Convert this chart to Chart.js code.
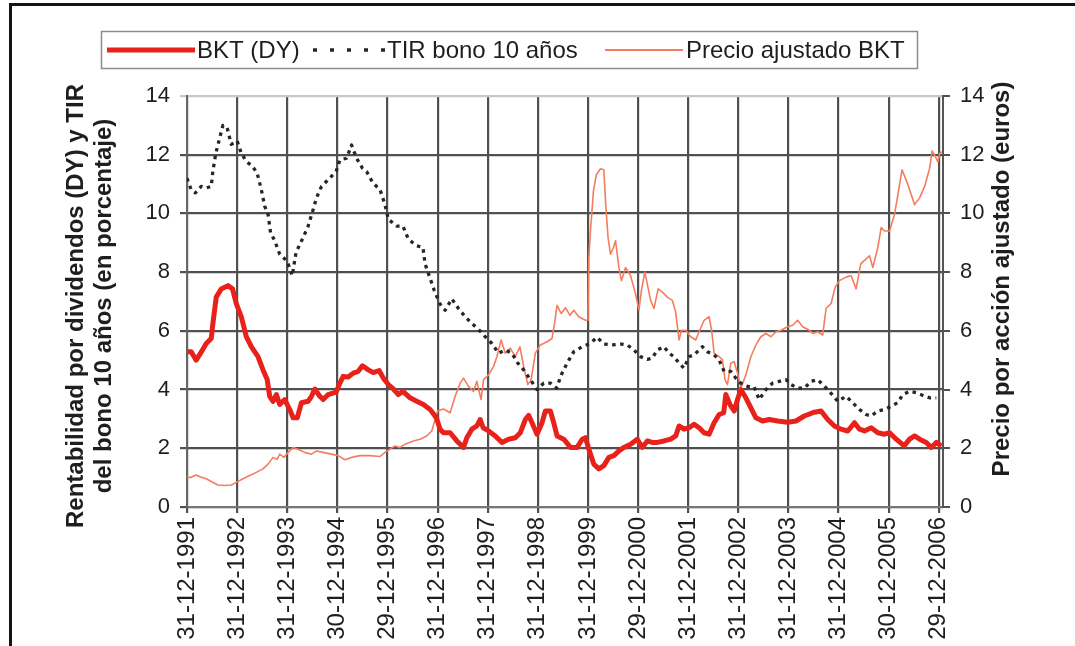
<!DOCTYPE html>
<html>
<head>
<meta charset="utf-8">
<title>BKT: rentabilidad por dividendos, TIR y precio</title>
<script src="https://cdn.jsdelivr.net/npm/chart.js@4.4.0/dist/chart.umd.min.js"></script>
<style>
  html, body { margin: 0; padding: 0; background: #fff; }
  #wrap { position: relative; width: 1075px; height: 646px; }
</style>
</head>
<body>
<div id="wrap"><canvas id="chart" width="1075" height="646"></canvas></div>
<script>
"use strict";

// x values are months counted from 31-12-1991
const tickMonths = [0, 12, 24, 36, 48, 60, 72, 84, 96, 108, 120, 132, 144, 156, 168, 180];
const tickLabels = ['31-12-1991', '31-12-1992', '31-12-1993', '30-12-1994', '29-12-1995', '31-12-1996',
  '31-12-1997', '31-12-1998', '31-12-1999', '29-12-2000', '31-12-2001', '31-12-2002', '31-12-2003',
  '31-12-2004', '30-12-2005', '29-12-2006'];

const legendNames = ['BKT (DY)', 'TIR bono 10 años', 'Precio ajustado BKT'];
const leftTitle = ['Rentabilidad por dividendos (DY) y TIR', 'del bono 10 años (en porcentaje)'];
const rightTitle = 'Precio por acción ajustado (euros)';

// BKT dividend yield (%)
const dyMonths = [0, 1, 2.2, 3.5, 4.6, 5.8, 6.2, 7, 8.2, 9.8, 10.9, 11.8, 13, 14.2, 15.4, 17, 18.2, 19.2, 19.8, 20.6,
  21.4, 22.2, 23.4, 24.6, 25.4, 26.4, 27.4, 29, 29.8, 30.6, 31.8, 32.6, 33.8, 35.7, 36.6, 37.4, 38.6, 39.8, 41, 42,
  43.4, 44.6, 46, 47, 48.2, 49.4, 50.6, 51.7, 53.4, 55, 56.6, 58.2, 59.7, 60.6, 61.4, 63, 64.6, 66.2, 67, 68.2,
  69.4, 70.2, 70.9, 72.2, 73.8, 75.4, 77, 78.6, 79.8, 81, 81.8, 82.6, 83.8, 85, 85.8, 87, 87.8, 88.6, 90.2, 91.8,
  93.4, 94.6, 95.4, 96.2, 97.4, 98.6, 99.8, 101, 102.2, 103.4, 104.6, 106.2, 107.8, 109, 110.2, 111.4, 112.6, 114.2,
  115.8, 117, 117.8, 119, 120.2, 121.4, 122.6, 123.8, 125, 126.2, 127.4, 128.5, 129, 130, 131, 131.8, 132.6, 133.8,
  135, 136.2, 137.8, 139.4, 141.4, 143.8, 145.8, 147.8, 150.2, 151.8, 153.4, 155, 156.6, 158.2, 159.8, 161, 162.2,
  163.8, 165.4, 167, 168.2, 169.8, 171.7, 173, 174.2, 175.4, 177, 178.2, 179.4, 180.6];
const dyValues = [5.29, 5.29, 5.0, 5.3, 5.57, 5.74, 6.25, 7.15, 7.43, 7.54, 7.43, 6.93, 6.48, 5.8, 5.46, 5.12, 4.67, 4.34, 3.77, 3.6,
  3.83, 3.49, 3.66, 3.32, 3.04, 3.04, 3.55, 3.6, 3.77, 4.02, 3.77, 3.66, 3.83, 3.91, 4.22, 4.45, 4.43, 4.56, 4.62, 4.81,
  4.67, 4.58, 4.65, 4.39, 4.17, 4.02, 3.83, 3.94, 3.72, 3.6, 3.49, 3.32, 3.04, 2.65, 2.53, 2.53, 2.25, 2.03, 2.36, 2.65,
  2.76, 2.98, 2.7, 2.59, 2.42, 2.2, 2.31, 2.36, 2.53, 2.98, 3.12, 2.87, 2.48, 2.87, 3.27, 3.27, 2.87, 2.42, 2.31, 2.03,
  2.03, 2.31, 2.36, 1.97, 1.46, 1.3, 1.41, 1.69, 1.75, 1.91, 2.03, 2.14, 2.31, 2.03, 2.25, 2.2, 2.2, 2.25,
  2.31, 2.42, 2.76, 2.65, 2.7, 2.82, 2.7, 2.53, 2.48, 2.87, 3.15, 3.21, 3.83, 3.49, 3.27, 3.66, 4.0, 3.72,
  3.38, 3.04, 2.93, 2.98, 2.93, 2.89, 2.93, 3.1, 3.23, 3.27, 2.98, 2.76, 2.65, 2.59, 2.87, 2.65, 2.59,
  2.7, 2.53, 2.48, 2.53, 2.31, 2.08, 2.31, 2.42, 2.31, 2.2, 2.03, 2.2, 2.08];

// 10-year bond yield (%)
const tirMonths = [0, 1, 2, 3.4, 4.6, 5.8, 6.2, 6.9, 7.7, 8.6, 9.6, 10.6, 12, 13, 14.2, 15.7, 16.8, 17.7, 18.6, 19.4,
  20, 21, 22.2, 24, 25.2, 26.1, 27.8, 29, 30.1, 31, 32.2, 33.8, 35.7, 36.6, 38.2, 39.4, 40.6, 42, 43, 44.5,
  46.2, 47.4, 48.2, 50.2, 51.7, 53, 55, 56.5, 57, 58.1, 59.2, 60.5, 61.8, 63.4, 65, 66.6, 68.2, 69.8, 71.4, 73,
  74.6, 76.2, 77.8, 79.2, 80.6, 82.2, 83.8, 85.4, 87, 88.5, 89.6, 91, 92.6, 94.6, 96.5, 98.2, 99.8, 101.8, 103.8, 105.4,
  107, 108.6, 110.2, 111.4, 112.6, 114.2, 115.4, 116.6, 117.8, 119, 120.2, 121.4, 123.4, 124.6, 126.2, 127.4, 128.6, 130.2,
  131.4, 132.6, 134.2, 135.8, 137, 138.6, 140.2, 141.8, 143.4, 144.6, 146.2, 147.8, 149.4, 151, 152.2, 153.8, 155.8, 157.8,
  159.4, 161, 162.6, 163.8, 165.4, 167, 168.6, 170.1, 171.4, 173, 174.6, 176.2, 177.8, 179.4];
const tirValues = [11.2, 10.81, 10.7, 10.92, 10.87, 10.92, 11.45, 12.05, 12.5, 13.0, 12.92, 12.35, 12.47, 12.05, 11.77, 11.6, 11.37, 10.87, 10.25, 9.97,
  9.35, 9.07, 8.61, 8.37, 7.88, 8.67, 9.18, 9.57, 10.08, 10.53, 10.92, 11.15, 11.43, 11.82, 11.88, 12.33, 11.88, 11.54, 11.43, 11.04,
  10.81, 10.3, 9.8, 9.57, 9.57, 9.12, 8.9, 8.84, 8.28, 7.83, 7.38, 6.93, 6.7, 7.09, 6.76, 6.48, 6.25, 6.05, 5.8, 5.57,
  5.24, 5.35, 5.24, 4.9, 4.67, 4.34, 4.0, 4.22, 4.22, 4.05, 4.5, 4.9, 5.29, 5.46, 5.57, 5.78, 5.55, 5.52, 5.55, 5.52,
  5.35, 5.12, 5.03, 5.07, 5.35, 5.46, 5.24, 5.12, 4.9, 4.73, 5.12, 5.18, 5.46, 5.29, 5.18, 5.01, 4.62, 4.62,
  4.39, 4.22, 4.11, 4.09, 3.66, 4.0, 4.22, 4.28, 4.34, 4.17, 4.05, 4.05, 4.28, 4.34, 4.17, 3.94, 3.6, 3.77,
  3.55, 3.32, 3.15, 3.1, 3.27, 3.32, 3.43, 3.55, 3.83, 3.94, 3.89, 3.8, 3.72, 3.72];

// BKT adjusted share price (euros)
const priceMonths = [0, 1, 2.2, 3.4, 4.6, 5.8, 7.4, 9, 10.6, 11.8, 13.4, 15, 16.6, 18.2, 19.4, 20.6, 21.6, 22.2, 23.2, 24.2,
  25.4, 26.6, 28.2, 29.8, 31, 32.6, 34.6, 36.2, 37.8, 39.4, 41.4, 43.8, 46.2, 47.4, 48.6, 49.8, 51, 52.2, 54.2, 55.8,
  57.4, 58.6, 59.4, 60, 61.4, 63, 64.2, 65.4, 66.2, 67.4, 68.6, 69.4, 70.4, 71, 72.2, 73.4, 74.2, 75.2, 76.2, 77.4,
  78.6, 79.7, 80.6, 81.6, 82.4, 83.4, 84.6, 86.2, 87.4, 88, 88.6, 89.6, 90.6, 91.7, 92.6, 93.8, 95.4, 96, 96.2, 96.6,
  97.3, 98, 99, 99.8, 100.2, 100.8, 101.4, 102.1, 102.6, 103.4, 104, 105, 106.2, 107.4, 108.2, 108.8, 109.6, 110.2, 111, 111.8,
  112.8, 113.8, 115, 116.2, 117, 117.8, 118.4, 119.4, 120.6, 121.8, 122.6, 123.8, 125, 125.6, 126.2, 127.4, 128.2, 128.8, 129.4, 130.2,
  131, 131.8, 132.6, 133.8, 135, 136.2, 137.4, 138.6, 139.8, 141, 142.2, 143.8, 145, 146.2, 147.4, 149, 149.8, 151, 152.2, 153,
  154.2, 155.2, 156.2, 157.8, 159, 160.2, 161.3, 162.6, 163.4, 164.2, 165.4, 166.2, 167, 168.2, 169.4, 170.2, 171.2, 172.6, 174.2, 175.4,
  176.6, 177.8, 178.4, 179.2, 179.8, 180.2, 180.8];
const priceValues = [1.01, 1.01, 1.09, 1.01, 0.96, 0.87, 0.75, 0.73, 0.75, 0.84, 0.96, 1.07, 1.18, 1.3, 1.46, 1.69, 1.63, 1.8, 1.69, 1.86,
  2.03, 1.97, 1.86, 1.8, 1.91, 1.86, 1.8, 1.75, 1.61, 1.69, 1.75, 1.75, 1.72, 1.86, 1.97, 2.08, 2.03, 2.14, 2.25, 2.31,
  2.42, 2.59, 2.98, 3.27, 3.34, 3.21, 3.77, 4.22, 4.39, 4.11, 3.94, 4.28, 3.66, 4.34, 4.5, 4.79, 5.12, 5.69, 5.24, 5.41,
  5.12, 5.46, 4.79, 4.17, 4.34, 5.24, 5.52, 5.63, 5.74, 6.25, 6.87, 6.59, 6.79, 6.53, 6.7, 6.48, 6.36, 6.36, 8.5, 9.4,
  10.75, 11.32, 11.52, 11.49, 10.42, 9.18, 8.61, 8.84, 9.07, 8.16, 7.71, 8.16, 7.88, 7.26, 6.7, 7.38, 8.0, 7.6, 7.04, 6.76,
  7.43, 7.32, 7.15, 7.04, 6.64, 5.69, 6.02, 6.02, 5.8, 5.69, 5.97, 6.36, 6.48, 6.02, 5.24, 5.12, 5.01, 4.34, 4.17, 4.9,
  4.95, 4.56, 4.05, 4.5, 5.12, 5.52, 5.8, 5.91, 5.8, 5.97, 6.02, 6.14, 6.19, 6.36, 6.14, 6.02, 5.91, 5.97, 5.86, 6.76,
  6.93, 7.49, 7.71, 7.83, 7.88, 7.43, 8.28, 8.45, 8.56, 8.16, 8.84, 9.52, 9.4, 9.4, 9.97, 10.64, 11.49, 10.98, 10.3, 10.53,
  10.92, 11.54, 12.13, 11.93, 11.75, 12.05, 12.1];

const FONT = '"Liberation Sans", Arial, sans-serif';
const DY_COLOR = '#e8221b';
const TIR_COLOR = '#262626';
const PRICE_COLOR = '#f47d5f';
const GRID = '#505050';

function toPoints(xs, ys) {
  return xs.map((x, i) => ({ x: x, y: ys[i] }));
}

// frame, legend box and axis titles
const decorPlugin = {
  id: 'decor',
  beforeDraw(chart) {
    const ctx = chart.ctx;
    ctx.save();
    ctx.fillStyle = '#fff';
    ctx.fillRect(0, 0, chart.width, chart.height);
    ctx.restore();
  },
  afterDraw(chart) {
    const ctx = chart.ctx;
    ctx.save();

    ctx.fillStyle = '#141414';
    ctx.fillRect(9, 3, 1066, 3);
    ctx.fillRect(9, 3, 3, 643);

    // legend
    ctx.strokeStyle = '#8c8c8c';
    ctx.lineWidth = 1.5;
    ctx.strokeRect(101.5, 31.5, 816, 37);

    const ly = 50;
    ctx.lineCap = 'butt';
    ctx.strokeStyle = DY_COLOR;
    ctx.lineWidth = 5;
    ctx.beginPath(); ctx.moveTo(107, ly); ctx.lineTo(195, ly); ctx.stroke();

    ctx.strokeStyle = TIR_COLOR;
    ctx.lineWidth = 3.5;
    ctx.setLineDash([4, 13]);
    ctx.beginPath(); ctx.moveTo(313, ly); ctx.lineTo(388, ly); ctx.stroke();
    ctx.setLineDash([]);

    ctx.strokeStyle = PRICE_COLOR;
    ctx.lineWidth = 2;
    ctx.beginPath(); ctx.moveTo(605, ly); ctx.lineTo(683, ly); ctx.stroke();

    ctx.fillStyle = '#1e1e1e';
    ctx.font = '24px ' + FONT;
    ctx.textBaseline = 'middle';
    ctx.textAlign = 'left';
    ctx.fillText(legendNames[0], 197, ly + 1);
    ctx.fillText(legendNames[1], 387, ly + 1);
    ctx.fillText(legendNames[2], 686, ly + 1);

    // axis titles, both read bottom to top
    ctx.font = 'bold 24px ' + FONT;
    ctx.textAlign = 'center';
    ctx.save();
    ctx.translate(76, 306);
    ctx.rotate(-Math.PI / 2);
    ctx.fillText(leftTitle[0], 0, 0);
    ctx.fillText(leftTitle[1], 0, 28);
    ctx.restore();

    ctx.save();
    ctx.translate(1002, 279);
    ctx.rotate(-Math.PI / 2);
    ctx.fillText(rightTitle, 0, 0);
    ctx.restore();

    ctx.restore();
  }
};

const ctx = document.getElementById('chart').getContext('2d');
const chart = new Chart(ctx, {
  type: 'line',
  data: {
    datasets: [
      {
        label: legendNames[0],
        data: toPoints(dyMonths, dyValues),
        borderColor: DY_COLOR,
        borderWidth: 5,
        yAxisID: 'y'
      },
      {
        label: legendNames[1],
        data: toPoints(tirMonths, tirValues),
        borderColor: TIR_COLOR,
        borderWidth: 3.3,
        borderDash: [3.5, 4.5],
        yAxisID: 'y'
      },
      {
        label: legendNames[2],
        data: toPoints(priceMonths, priceValues),
        borderColor: PRICE_COLOR,
        borderWidth: 1.6,
        yAxisID: 'y2'
      }
    ]
  },
  options: {
    responsive: false,
    animation: false,
    events: [],
    layout: { padding: { top: 96, left: 0, right: 0, bottom: 0 } },
    elements: {
      point: { radius: 0 },
      line: { tension: 0, fill: false, borderJoinStyle: 'round' }
    },
    plugins: {
      legend: { display: false },
      tooltip: { enabled: false }
    },
    scales: {
      x: {
        type: 'linear',
        min: 0,
        max: 181,
        afterBuildTicks: scale => { scale.ticks = tickMonths.map(v => ({ value: v })); },
        afterFit: scale => { scale.height = 139; },
        ticks: {
          autoSkip: false,
          minRotation: 90,
          maxRotation: 90,
          padding: 4,
          color: '#1e1e1e',
          font: { family: FONT, size: 24 },
          callback: (value, index) => tickLabels[index]
        },
        grid: { color: GRID, lineWidth: 2.2, tickLength: 6 },
        border: { display: true, color: '#777', width: 2 }
      },
      y: {
        position: 'left',
        min: 0,
        max: 14,
        afterFit: scale => { scale.width = 187; },
        ticks: {
          stepSize: 2,
          padding: 10,
          color: '#1e1e1e',
          font: { family: FONT, size: 22 }
        },
        grid: {
          color: c => (c.tick && c.tick.value === 14 ? '#c8c8c8' : GRID),
          lineWidth: 2.2,
          tickLength: 7
        },
        border: { display: true, color: '#666', width: 2 }
      },
      y2: {
        position: 'right',
        min: 0,
        max: 14,
        afterFit: scale => { scale.width = 132; },
        ticks: {
          stepSize: 2,
          padding: 10,
          color: '#1e1e1e',
          font: { family: FONT, size: 22 }
        },
        grid: { drawOnChartArea: false, color: GRID, lineWidth: 2, tickLength: 7 },
        border: { display: true, color: '#555', width: 2 }
      }
    }
  },
  plugins: [decorPlugin]
});
</script>
</body>
</html>
